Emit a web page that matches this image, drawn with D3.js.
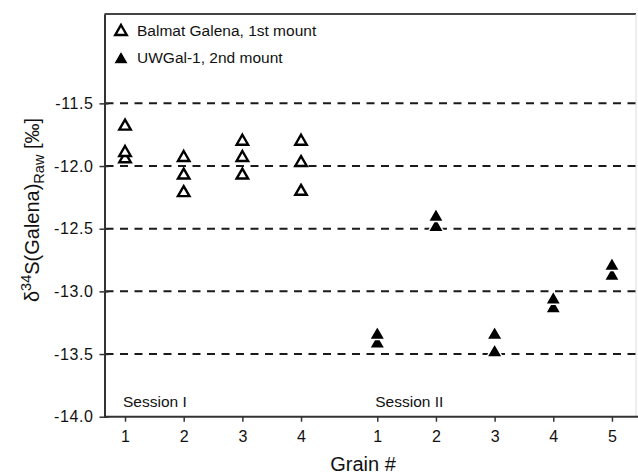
<!DOCTYPE html>
<html>
<head>
<meta charset="utf-8">
<script src="https://cdn.jsdelivr.net/npm/d3@7"></script>
<style>
  html, body { margin: 0; padding: 0; background: #fff; }
  svg { display: block; font-family: "Liberation Sans", Arial, Helvetica, sans-serif; }
</style>
</head>
<body>
<svg id="chart" width="638" height="475"></svg>
<script>
// Grain positions on the x axis (session II is offset from session I)
const grainPos = [1, 2, 3, 4, 5.3, 6.3, 7.3, 8.3, 9.3];
const grainLabels = ["1", "2", "3", "4", "1", "2", "3", "4", "5"];

// Balmat Galena, 1st mount (session I), three spots per grain
const balmatGrain = [1, 1, 1, 2, 2, 2, 3, 3, 3, 4, 4, 4];
const balmatValues = [-11.67, -11.88, -11.93, -11.92, -12.06, -12.20, -11.79, -11.92, -12.06, -11.79, -11.96, -12.19];

// UWGal-1, 2nd mount (session II), two spots per grain
const uwgalGrain = [5.3, 5.3, 6.3, 6.3, 7.3, 7.3, 8.3, 8.3, 9.3, 9.3];
const uwgalValues = [-13.33, -13.40, -12.39, -12.47, -13.33, -13.47, -13.05, -13.12, -12.78, -12.86];

const yTicks = [-11.5, -12.0, -12.5, -13.0, -13.5, -14.0];
const refLines = [-11.5, -12.0, -12.5, -13.0, -13.5];
const sessionLabels = [{ text: "Session I", at: 1 }, { text: "Session II", at: 5.3 }];

const plotLeft = 104.5, plotRight = 636, plotTop = 14, plotBottom = 416.7;
const ink = "#111";

const svg = d3.select("#chart");

const x = d3.scaleLinear().domain([0.65, 9.71]).range([plotLeft, plotRight]);
const y = d3.scaleLinear().domain([-14, -10.787]).range([plotBottom, plotTop]);

// Triangle centred on its bounding box
const triangleBox = {
  draw(context, size) {
    const s = Math.sqrt(size);      // side length
    const h = s * Math.sqrt(3) / 2; // height
    context.moveTo(0, -h / 2);
    context.lineTo(s / 2, h / 2);
    context.lineTo(-s / 2, h / 2);
    context.closePath();
  }
};
const openTri = d3.symbol().type(triangleBox).size(11.5 * 11.5)();
const fillTri = d3.symbol().type(triangleBox).size(15.5 * 15.5)();
const legendFillTri = d3.symbol().type(triangleBox).size(14.5 * 14.5)();

// Frame: top edge and faint right edge
svg.append("line").attr("x1", plotLeft).attr("x2", plotRight).attr("y1", plotTop).attr("y2", plotTop)
  .attr("stroke", "#444").attr("stroke-width", 2);
svg.append("line").attr("x1", plotRight).attr("x2", plotRight).attr("y1", plotTop).attr("y2", plotBottom)
  .attr("stroke", "#ddd").attr("stroke-width", 1);

// Dashed reference lines
svg.append("g").selectAll("line").data(refLines).join("line")
  .attr("x1", plotLeft + 1).attr("x2", plotRight)
  .attr("y1", d => y(d)).attr("y2", d => y(d))
  .attr("stroke", "#1a1a1a").attr("stroke-width", 2)
  .attr("stroke-dasharray", "8,6.5");

// Y axis
const yAxis = d3.axisLeft(y).tickValues(yTicks).tickFormat(d3.format(".1f")).tickSizeOuter(0).tickSizeInner(5).tickPadding(6);
const gy = svg.append("g").attr("transform", `translate(${plotLeft},0)`).call(yAxis);
gy.select(".domain").attr("stroke", "#333").attr("stroke-width", 2);
gy.selectAll(".tick line").attr("stroke", "#333").attr("stroke-width", 1.5).attr("x2", 4).attr("x1", -5);
gy.selectAll(".tick text").attr("font-size", 16).attr("fill", ink)
  .attr("font-family", "Liberation Sans, Arial, sans-serif").attr("letter-spacing", 0.6)
  .text(d => d3.format(".1f")(d).replace("−", "-"));

// X axis
const xAxis = d3.axisBottom(x).tickValues(grainPos).tickFormat((d, i) => grainLabels[i]).tickSizeOuter(0).tickSizeInner(5).tickPadding(9);
const gx = svg.append("g").attr("transform", `translate(0,${plotBottom})`).call(xAxis);
gx.select(".domain").attr("stroke", "#333").attr("stroke-width", 2).attr("d", `M${plotLeft},0H638`);
gx.selectAll(".tick line").attr("stroke", "#333").attr("stroke-width", 1.5);
gx.selectAll(".tick text").attr("font-size", 16).attr("fill", ink)
  .attr("font-family", "Liberation Sans, Arial, sans-serif");

// Session labels
svg.append("g").selectAll("text").data(sessionLabels).join("text")
  .attr("x", d => x(d.at) - 2).attr("y", 407)
  .attr("font-size", 15.5).attr("fill", ink)
  .text(d => d.text);

// Balmat Galena: open triangles (drawn low to high so upper markers sit on top)
const balmat = balmatValues.map((v, i) => ({ g: balmatGrain[i], v })).sort((a, b) => a.v - b.v);
svg.append("g").selectAll("path").data(balmat).join("path")
  .attr("d", openTri)
  .attr("transform", d => `translate(${x(d.g)},${y(d.v)})`)
  .attr("fill", "#fff").attr("stroke", "#000").attr("stroke-width", 2.4)
  .attr("stroke-linejoin", "miter");

// UWGal-1: filled triangles with a white rim
const uwgal = uwgalValues.map((v, i) => ({ g: uwgalGrain[i], v })).sort((a, b) => a.v - b.v);
svg.append("g").selectAll("path").data(uwgal).join("path")
  .attr("d", fillTri)
  .attr("transform", d => `translate(${x(d.g)},${y(d.v)})`)
  .attr("fill", "#000").attr("stroke", "#fff").attr("stroke-width", 1.5);

// Legend
const legend = svg.append("g");
legend.append("path").attr("d", openTri).attr("transform", "translate(121,30)")
  .attr("fill", "#fff").attr("stroke", "#000").attr("stroke-width", 2.4);
legend.append("text").attr("x", 137).attr("y", 35.5).attr("font-size", 15.5).attr("fill", ink)
  .text("Balmat Galena, 1st mount");
legend.append("path").attr("d", legendFillTri).attr("transform", "translate(121,57.5)")
  .attr("fill", "#000").attr("stroke", "#fff").attr("stroke-width", 1);
legend.append("text").attr("x", 137).attr("y", 63).attr("font-size", 15.5).attr("fill", ink)
  .text("UWGal-1, 2nd mount");

// Axis titles
svg.append("text").attr("x", 363).attr("y", 471).attr("text-anchor", "middle")
  .attr("font-size", 20).attr("fill", ink).text("Grain #");

const yTitle = svg.append("text")
  .attr("transform", "translate(38.5,210) rotate(-90)")
  .attr("text-anchor", "middle").attr("font-size", 20).attr("fill", ink);
yTitle.append("tspan").text("δ");
yTitle.append("tspan").attr("font-size", 14.5).attr("dy", -8).text("34");
yTitle.append("tspan").attr("dy", 8).text("S(Galena)");
yTitle.append("tspan").attr("font-size", 14.5).attr("dy", 5).text("Raw");
yTitle.append("tspan").attr("dy", -5).text(" [‰]");
</script>
</body>
</html>
